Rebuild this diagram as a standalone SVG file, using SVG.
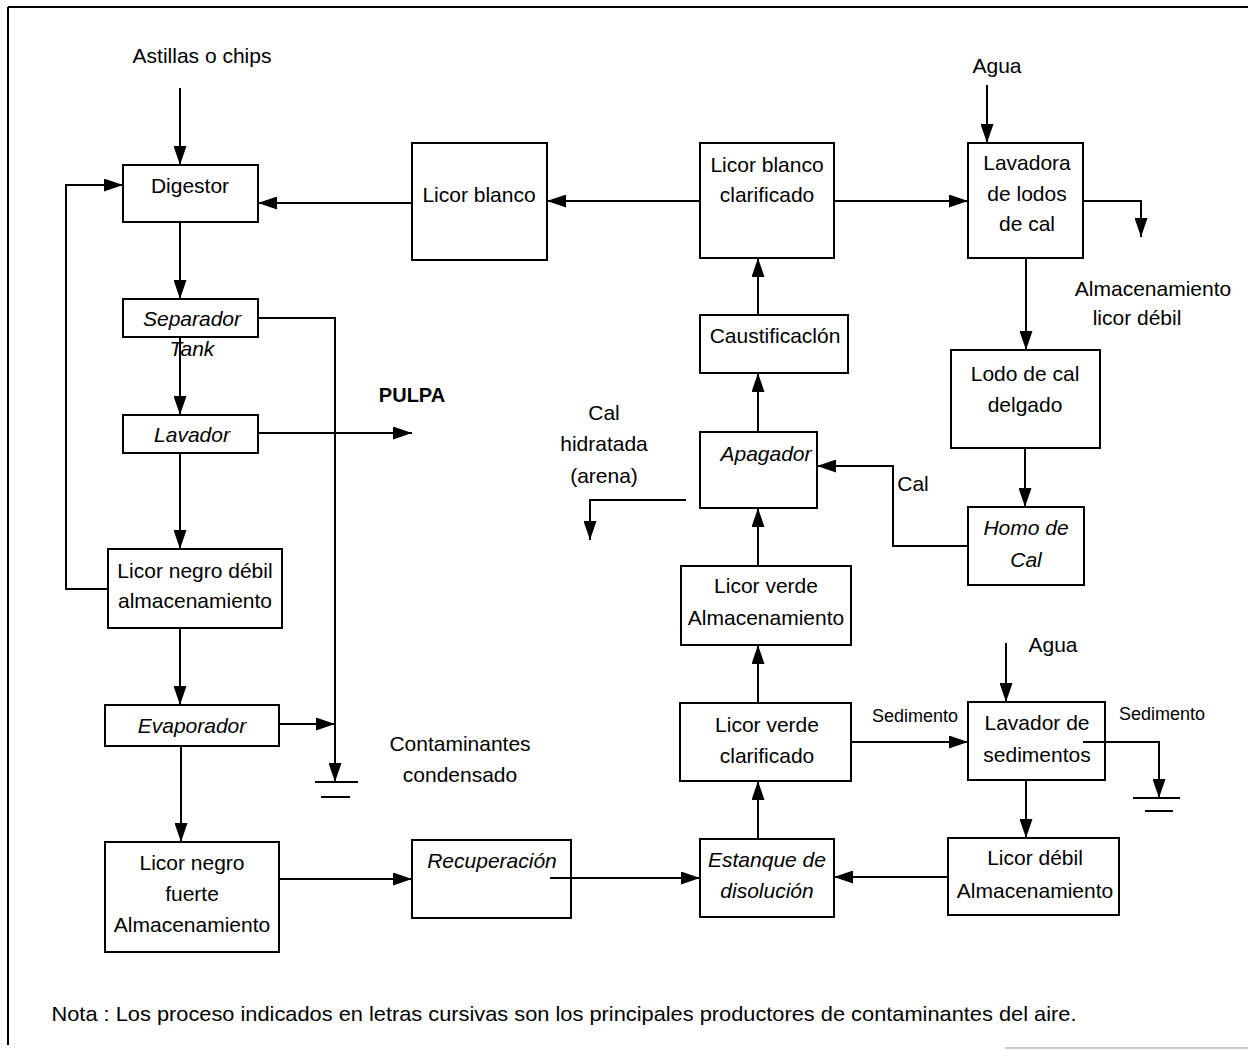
<svg xmlns="http://www.w3.org/2000/svg" width="1248" height="1050" viewBox="0 0 1248 1050">
  <style>
    .box { fill: #fff; stroke: #000; stroke-width: 2; }
    .ln { fill: none; stroke: #000; stroke-width: 2; }
    .t { font-family: "Liberation Sans", Arial, sans-serif; font-size: 21px; fill: #000; text-anchor: middle; }
    .it { font-style: italic; }
    .sm { font-size: 18px; }
    .b { font-weight: bold; font-size: 20px; }
  </style>
  <defs>
    <marker id="ah" viewBox="0 0 19 13" refX="19" refY="6.5" markerWidth="19" markerHeight="13" markerUnits="userSpaceOnUse" orient="auto">
      <path d="M0,0 L19,6.5 L0,13 z" fill="#000"/>
    </marker>
  </defs>

  <rect x="0" y="0" width="1248" height="1050" fill="#fff"/>

  <!-- page frame -->
  <g id="frame">
    <line x1="8" y1="7" x2="1248" y2="7" stroke="#000" stroke-width="2"/>
    <line x1="8" y1="7" x2="8" y2="1045" stroke="#000" stroke-width="2"/>
    <line x1="1005" y1="1048" x2="1248" y2="1048" stroke="#bbb" stroke-width="1.5"/>
  </g>

  <!-- free labels -->
  <g id="labels" class="t">
    <text x="202" y="63">Astillas o chips</text>
    <text x="997" y="73">Agua</text>
    <text x="1053" y="652">Agua</text>
    <text x="1153" y="296">Almacenamiento</text>
    <text x="1137" y="325">licor débil</text>
    <text class="b" x="412" y="402">PULPA</text>
    <text x="460" y="751">Contaminantes</text>
    <text x="460" y="782">condensado</text>
    <text x="604" y="420">Cal</text>
    <text x="604" y="451">hidratada</text>
    <text x="604" y="483">(arena)</text>
    <text x="913" y="491">Cal</text>
    <text class="sm" x="915" y="722">Sedimento</text>
    <text class="sm" x="1162" y="720">Sedimento</text>
    <text x="564" y="1021" textLength="1025" lengthAdjust="spacingAndGlyphs">Nota : Los proceso indicados en letras cursivas son los principales productores de contaminantes del aire.</text>
  </g>

  <!-- process nodes -->
  <g id="digestor">
    <rect class="box" x="123" y="165" width="135" height="57"/>
    <text class="t" x="190" y="193">Digestor</text>
  </g>
  <g id="separador">
    <rect class="box" x="123" y="299" width="135" height="38"/>
    <text class="t it" x="192" y="326">Separador</text>
    <text class="t it" x="192" y="356">Tank</text>
  </g>
  <g id="lavador">
    <rect class="box" x="123" y="415" width="135" height="38"/>
    <text class="t it" x="192" y="442">Lavador</text>
  </g>
  <g id="licor-negro-debil">
    <rect class="box" x="108" y="549" width="174" height="79"/>
    <text class="t" x="195" y="578">Licor negro débil</text>
    <text class="t" x="195" y="608">almacenamiento</text>
  </g>
  <g id="evaporador">
    <rect class="box" x="105" y="705" width="174" height="41"/>
    <text class="t it" x="192" y="733">Evaporador</text>
  </g>
  <g id="licor-negro-fuerte">
    <rect class="box" x="105" y="842" width="174" height="110"/>
    <text class="t" x="192" y="870">Licor negro</text>
    <text class="t" x="192" y="901">fuerte</text>
    <text class="t" x="192" y="932">Almacenamiento</text>
  </g>
  <g id="recuperacion">
    <rect class="box" x="412" y="840" width="159" height="78"/>
    <text class="t it" x="492" y="868">Recuperación</text>
  </g>
  <g id="estanque">
    <rect class="box" x="700" y="839" width="134" height="78"/>
    <text class="t it" x="767" y="867">Estanque de</text>
    <text class="t it" x="767" y="898">disolución</text>
  </g>
  <g id="licor-verde-clarificado">
    <rect class="box" x="680" y="703" width="171" height="78"/>
    <text class="t" x="767" y="732">Licor verde</text>
    <text class="t" x="767" y="763">clarificado</text>
  </g>
  <g id="licor-verde-almacenamiento">
    <rect class="box" x="681" y="566" width="170" height="79"/>
    <text class="t" x="766" y="593">Licor verde</text>
    <text class="t" x="766" y="625">Almacenamiento</text>
  </g>
  <g id="apagador">
    <rect class="box" x="700" y="432" width="117" height="76"/>
    <text class="t it" x="766" y="461">Apagador</text>
  </g>
  <g id="caustificacion">
    <rect class="box" x="700" y="315" width="148" height="58"/>
    <text class="t" x="775" y="343">Caustificaclón</text>
  </g>
  <g id="licor-blanco-clarificado">
    <rect class="box" x="700" y="143" width="134" height="115"/>
    <text class="t" x="767" y="172">Licor blanco</text>
    <text class="t" x="767" y="202">clarificado</text>
  </g>
  <g id="licor-blanco">
    <rect class="box" x="412" y="143" width="135" height="117"/>
    <text class="t" x="479" y="202">Licor blanco</text>
  </g>
  <g id="lavadora-lodos">
    <rect class="box" x="968" y="143" width="115" height="115"/>
    <text class="t" x="1027" y="170">Lavadora</text>
    <text class="t" x="1027" y="201">de lodos</text>
    <text class="t" x="1027" y="231">de cal</text>
  </g>
  <g id="lodo-cal">
    <rect class="box" x="951" y="350" width="149" height="98"/>
    <text class="t" x="1025" y="381">Lodo de cal</text>
    <text class="t" x="1025" y="412">delgado</text>
  </g>
  <g id="horno-cal">
    <rect class="box" x="968" y="507" width="116" height="78"/>
    <text class="t it" x="1026" y="535">Homo de</text>
    <text class="t it" x="1026" y="567">Cal</text>
  </g>
  <g id="lavador-sedimentos">
    <rect class="box" x="968" y="702" width="137" height="78"/>
    <text class="t" x="1037" y="730">Lavador de</text>
    <text class="t" x="1037" y="762">sedimentos</text>
  </g>
  <g id="licor-debil">
    <rect class="box" x="948" y="838" width="171" height="77"/>
    <text class="t" x="1035" y="865">Licor débil</text>
    <text class="t" x="1035" y="898">Almacenamiento</text>
  </g>

  <!-- connectors (drawn last: two of them start inside their boxes) -->
  <g id="connectors" class="ln">
    <path d="M180,88 V165" marker-end="url(#ah)"/>
    <path d="M180,222 V299" marker-end="url(#ah)"/>
    <path d="M180,337 V415" marker-end="url(#ah)"/>
    <path d="M180,453 V549" marker-end="url(#ah)"/>
    <path d="M180,628 V705" marker-end="url(#ah)"/>
    <path d="M181,746 V842" marker-end="url(#ah)"/>
    <path d="M108,589 H66 V185 H123" marker-end="url(#ah)"/>
    <path d="M412,203 H258" marker-end="url(#ah)"/>
    <path d="M700,201 H547" marker-end="url(#ah)"/>
    <path d="M834,201 H968" marker-end="url(#ah)"/>
    <path d="M987,85 V143" marker-end="url(#ah)"/>
    <path d="M1083,201 H1141 V237" marker-end="url(#ah)"/>
    <path d="M1026,258 V350" marker-end="url(#ah)"/>
    <path d="M1025,448 V507" marker-end="url(#ah)"/>
    <path d="M968,546 H893 V466 H817" marker-end="url(#ah)"/>
    <path d="M758,432 V373" marker-end="url(#ah)"/>
    <path d="M758,315 V258" marker-end="url(#ah)"/>
    <path d="M686,500 H590 V540" marker-end="url(#ah)"/>
    <path d="M758,566 V508" marker-end="url(#ah)"/>
    <path d="M758,703 V645" marker-end="url(#ah)"/>
    <path d="M758,839 V781" marker-end="url(#ah)"/>
    <path d="M279,879 H412" marker-end="url(#ah)"/>
    <path d="M550,878 H700" marker-end="url(#ah)"/>
    <path d="M948,877 H834" marker-end="url(#ah)"/>
    <path d="M851,742 H968" marker-end="url(#ah)"/>
    <path d="M1006,643 V702" marker-end="url(#ah)"/>
    <path d="M1026,780 V838" marker-end="url(#ah)"/>
    <path d="M1083,742 H1159 V798" marker-end="url(#ah)"/>
    <path d="M1133,798 H1180 M1145,811 H1173"/>
    <path d="M258,318 H335 V782" marker-end="url(#ah)"/>
    <path d="M315,782 H358 M321,797 H350"/>
    <path d="M279,724 H335" marker-end="url(#ah)"/>
    <path d="M258,433 H412" marker-end="url(#ah)"/>
  </g>
</svg>
